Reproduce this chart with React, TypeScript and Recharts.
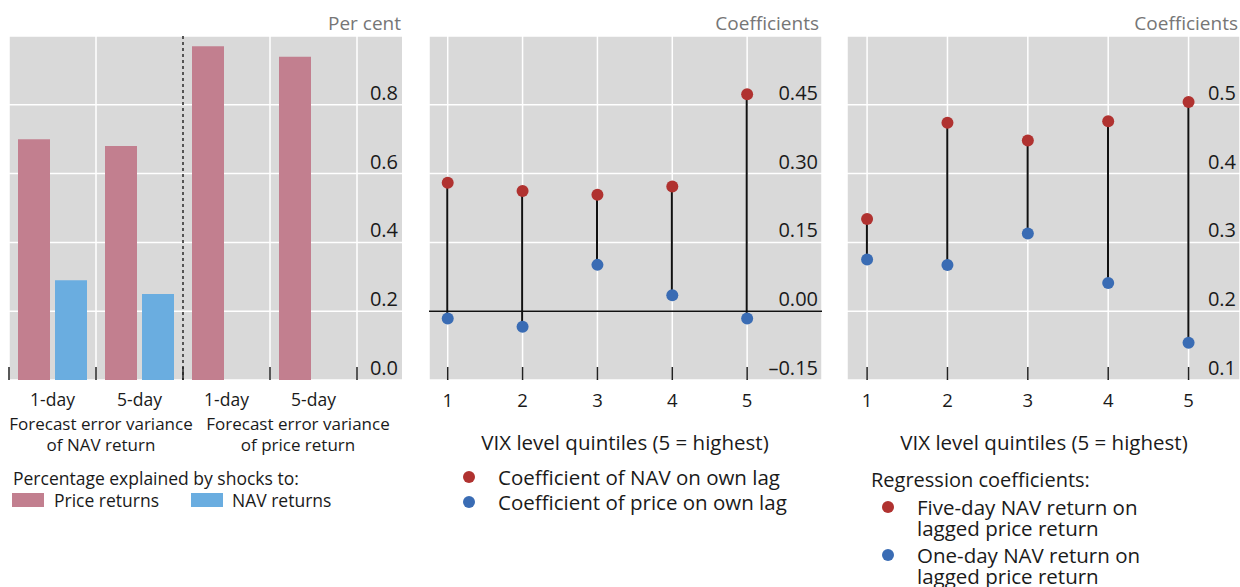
import React from 'react';
import { BarChart, Bar, ComposedChart, Scatter, XAxis, YAxis, CartesianGrid, ReferenceLine } from 'recharts';

// left panel: forecast error variance decomposition
const horizonIds = ['nav1', 'nav5', 'price1', 'price5'];
const horizonLabels = ['1-day', '5-day', '1-day', '5-day'];
const priceShare = [0.7, 0.68, 0.97, 0.94];
const navShare = [0.29, 0.25, 0, 0];
const shareTicks = [0, 0.2, 0.4, 0.6, 0.8, 1.0];

// middle panel: own-lag coefficients by VIX quintile
const quintiles = [1, 2, 3, 4, 5];
const navOwnLag = [0.28, 0.262, 0.254, 0.272, 0.473];
const priceOwnLag = [-0.016, -0.034, 0.101, 0.035, -0.016];
const lagTicks = [-0.15, 0, 0.15, 0.3, 0.45, 0.6];

// right panel: NAV return on lagged price return
const fiveDayNav = [0.334, 0.474, 0.448, 0.476, 0.504];
const oneDayNav = [0.275, 0.267, 0.313, 0.241, 0.154];
const regTicks = [0.1, 0.2, 0.3, 0.4, 0.5, 0.6];

const PRICE_COL = '#c27f8f';
const NAV_COL = '#6aade0';
const RED = '#b03230';
const BLUE = '#3a6cb4';
const BG = '#d9d9d9';
const INK = '#1a1a1a';
const FONT = '"Open Sans", sans-serif';

const CH = 420;
const TOP = 36;
const XH = 40;
const PLOT_BOTTOM = CH - XH;

const shareData = horizonIds.map((id, i) => ({ id, label: horizonLabels[i], price: priceShare[i], nav: navShare[i] }));
const lagData = quintiles.map((q, i) => ({
  q,
  nav: navOwnLag[i],
  price: priceOwnLag[i],
  span: [Math.min(navOwnLag[i], priceOwnLag[i]), Math.max(navOwnLag[i], priceOwnLag[i])],
}));
const regData = quintiles.map((q, i) => ({
  q,
  five: fiveDayNav[i],
  one: oneDayNav[i],
  span: [Math.min(fiveDayNav[i], oneDayNav[i]), Math.max(fiveDayNav[i], oneDayNav[i])],
}));

const makeYTick = (right: number, fmt: (v: number) => string, top: number) => (props: any) => {
  const { y, payload } = props;
  if (payload.value === top) return <g />;
  return (
    <text x={right} y={y - 5} textAnchor="end" fontSize={20} fill={INK}>
      {fmt(payload.value)}
    </text>
  );
};

const fmtLag = (v: number) => (v < 0 ? '\u2013' + Math.abs(v).toFixed(2) : v.toFixed(2));

const boundary = (dotted: boolean) => (props: any) => {
  const { x1, y1, y2 } = props;
  const top = Math.min(y1, y2);
  const bottom = Math.max(y1, y2);
  return (
    <g>
      <line x1={x1} x2={x1} y1={top} y2={bottom} stroke={dotted ? '#555' : '#fff'} strokeWidth={dotted ? 2 : 1.5} strokeDasharray={dotted ? '3 3' : undefined} />
      <line x1={x1} x2={x1} y1={bottom - 13} y2={bottom} stroke="#222" strokeWidth={1.5} />
    </g>
  );
};

const HorizonTick = (props: any) => {
  const { x, index } = props;
  return (
    <text x={x} y={PLOT_BOTTOM + 26} textAnchor="middle" fontSize={17.5} fill={INK}>
      {horizonLabels[index]}
    </text>
  );
};

const QuintileTick = (props: any) => {
  const { x, payload } = props;
  return (
    <g>
      <line x1={x} x2={x} y1={PLOT_BOTTOM - 13} y2={PLOT_BOTTOM} stroke="#222" strokeWidth={1.5} />
      <text x={x} y={PLOT_BOTTOM + 27} textAnchor="middle" fontSize={18.5} fill={INK}>
        {payload.value}
      </text>
    </g>
  );
};

const dot = (color: string) => (props: any) => <circle cx={props.cx} cy={props.cy} r={6} fill={color} />;

// y is the centre of the first line
const Txt: React.FC<{ x: number; y: number; size: number; lh?: number; align?: 'left' | 'right' | 'center'; color?: string; children: React.ReactNode }> = ({ x, y, size, lh, align = 'left', color = INK, children }) => {
  const lineH = lh ?? Math.round(size * 1.2);
  const style: React.CSSProperties = {
    position: 'absolute',
    top: y - lineH / 2,
    fontSize: size,
    lineHeight: lineH + 'px',
    color,
    whiteSpace: 'nowrap',
  };
  if (align === 'left') style.left = x;
  if (align === 'right') style.right = 1240 - x;
  if (align === 'center') {
    style.left = x - 200;
    style.width = 400;
    style.textAlign = 'center';
  }
  return <div style={style}>{children}</div>;
};

const Dot: React.FC<{ x: number; y: number; color: string }> = ({ x, y, color }) => (
  <div style={{ position: 'absolute', left: x - 6, top: y - 6, width: 12, height: 12, borderRadius: 6, background: color }} />
);

const App: React.FC = () => {
  return (
    <div style={{ position: 'absolute', left: 0, top: 0, width: 1240, height: 587, fontFamily: FONT, background: '#fff', overflow: 'hidden' }}>
      <div style={{ position: 'absolute', left: 0, top: 0 }}>
        <BarChart width={420} height={CH} data={shareData} margin={{ top: TOP, right: 18, left: 9, bottom: 0 }} barCategoryGap={9} barGap={5}>
          <CartesianGrid vertical={false} stroke="#fff" strokeWidth={1.5} fill={BG} />
          <XAxis dataKey="id" height={XH} padding={{ left: 0, right: 45 }} axisLine={false} tickLine={false} tick={<HorizonTick />} interval={0} />
          <YAxis orientation="right" mirror domain={[0, 1]} ticks={shareTicks} axisLine={false} tickLine={false} tick={makeYTick(420 - 18 - 4, (v) => v.toFixed(1), 1)} />
          <Bar dataKey="price" fill={PRICE_COL} isAnimationActive={false} />
          <Bar dataKey="nav" fill={NAV_COL} isAnimationActive={false} />
          <ReferenceLine x="nav1" position="start" shape={boundary(false)} />
          <ReferenceLine x="nav5" position="start" shape={boundary(false)} />
          <ReferenceLine x="price1" position="start" shape={boundary(true)} />
          <ReferenceLine x="price5" position="start" shape={boundary(false)} />
          <ReferenceLine x="price5" position="end" shape={boundary(false)} />
        </BarChart>
      </div>

      <div style={{ position: 'absolute', left: 420, top: 0 }}>
        <ComposedChart width={420} height={CH} data={lagData} margin={{ top: TOP, right: 18, left: 9, bottom: 0 }}>
          <CartesianGrid stroke="#fff" strokeWidth={1.5} fill={BG} />
          <XAxis dataKey="q" type="number" domain={[0.75, 6]} ticks={quintiles} height={XH} axisLine={false} tickLine={false} tick={<QuintileTick />} allowDataOverflow />
          <YAxis orientation="right" mirror domain={[-0.15, 0.6]} ticks={lagTicks} axisLine={false} tickLine={false} allowDataOverflow tick={makeYTick(420 - 18 - 4, fmtLag, 0.6)} />
          <ReferenceLine y={0} stroke="#111" strokeWidth={1.5} />
          <Bar dataKey="span" barSize={2} fill="#111" isAnimationActive={false} />
          <Scatter dataKey="price" shape={dot(BLUE)} isAnimationActive={false} />
          <Scatter dataKey="nav" shape={dot(RED)} isAnimationActive={false} />
        </ComposedChart>
      </div>

      <div style={{ position: 'absolute', left: 840, top: 0 }}>
        <ComposedChart width={400} height={CH} data={regData} margin={{ top: TOP, right: 0, left: 7, bottom: 0 }}>
          <CartesianGrid stroke="#fff" strokeWidth={1.5} fill={BG} />
          <XAxis dataKey="q" type="number" domain={[0.75, 5.64]} ticks={quintiles} height={XH} axisLine={false} tickLine={false} tick={<QuintileTick />} allowDataOverflow />
          <YAxis orientation="right" mirror domain={[0.1, 0.6]} ticks={regTicks} axisLine={false} tickLine={false} allowDataOverflow tick={makeYTick(400 - 4, (v) => v.toFixed(1), 0.6)} />
          <Bar dataKey="span" barSize={2} fill="#111" isAnimationActive={false} />
          <Scatter dataKey="one" shape={dot(BLUE)} isAnimationActive={false} />
          <Scatter dataKey="five" shape={dot(RED)} isAnimationActive={false} />
        </ComposedChart>
      </div>

      {/* panel 1 texts */}
      <Txt x={401} y={23} size={19} align="right" color="#767676">Per cent</Txt>
      <Txt x={101} y={423} size={17} lh={21} align="center">Forecast error variance<br />of NAV return</Txt>
      <Txt x={298} y={423} size={17} lh={21} align="center">Forecast error variance<br />of price return</Txt>
      <Txt x={13} y={478} size={17.5}>Percentage explained by shocks to:</Txt>
      <div style={{ position: 'absolute', left: 12, top: 493, width: 32, height: 14, background: PRICE_COL }} />
      <Txt x={54} y={500} size={17.5}>Price returns</Txt>
      <div style={{ position: 'absolute', left: 191, top: 493, width: 32, height: 14, background: NAV_COL }} />
      <Txt x={232} y={500} size={17.5}>NAV returns</Txt>

      {/* panel 2 texts */}
      <Txt x={819} y={23} size={19} align="right" color="#767676">Coefficients</Txt>
      <Txt x={625} y={442} size={20.5} align="center">VIX level quintiles (5 = highest)</Txt>
      <Dot x={469} y={477} color={RED} />
      <Dot x={469} y={502} color={BLUE} />
      <Txt x={498} y={477} size={20.5} lh={25}>Coefficient of NAV on own lag<br />Coefficient of price on own lag</Txt>

      {/* panel 3 texts */}
      <Txt x={1238} y={23} size={19} align="right" color="#767676">Coefficients</Txt>
      <Txt x={1044} y={442} size={20.5} align="center">VIX level quintiles (5 = highest)</Txt>
      <Txt x={871} y={480} size={20}>Regression coefficients:</Txt>
      <Dot x={888} y={507} color={RED} />
      <Txt x={917} y={507} size={20.5} lh={21}>Five-day NAV return on<br />lagged price return</Txt>
      <Dot x={888} y={555} color={BLUE} />
      <Txt x={917} y={555} size={20.5} lh={21}>One-day NAV return on<br />lagged price return</Txt>
    </div>
  );
};

export default App;
